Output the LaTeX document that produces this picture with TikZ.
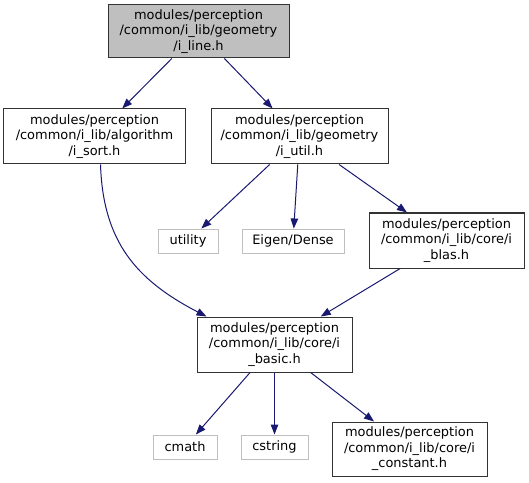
\documentclass[tikz,border=0pt]{standalone}
\usepackage{fontspec}
\setmainfont{DejaVu Sans}
\usepackage{xcolor}
\usetikzlibrary{arrows.meta,positioning}
\definecolor{edgeblue}{HTML}{191970}
\definecolor{sysgray}{HTML}{BFBFBF}

\begin{document}
\begin{tikzpicture}[x=1bp,y=-1bp,
box/.style={draw=black!80,line width=1bp,minimum width=155bp,minimum height=55bp,align=center,inner sep=0pt,font=\fontsize{13}{15.5}\selectfont},
sysbox/.style={draw=sysgray,line width=1bp,minimum height=24bp,inner sep=0pt,font=\fontsize{13}{15.5}\selectfont},arr/.style={-{Triangle[length=10bp,width=7.5bp]},edgeblue,line width=1bp}]
\useasboundingbox (0,0) rectangle (529,483);
\node[box,fill=sysgray,minimum width=181bp,minimum height=53bp] (iline) at (198.5,31.5) {modules/perception\\/common/i\_lib/geometry\\/i\_line.h};
\node[box,minimum width=181bp] (isort) at (94.5,136.5) {modules/perception\\/common/i\_lib/algorithm\\/i\_sort.h};
\node[box,minimum width=177bp] (iutil) at (299.5,136.5) {modules/perception\\/common/i\_lib/geometry\\/i\_util.h};
\node[sysbox,minimum width=60bp] (utility) at (188,241) {utility};
\node[sysbox,minimum width=102bp] (eigen) at (293,241) {Eigen/Dense};
\node[box] (iblas) at (446.5,240.5) {modules/perception\\/common/i\_lib/core/i\\\_blas.h};
\node[box] (ibasic) at (274.5,344.5) {modules/perception\\/common/i\_lib/core/i\\\_basic.h};
\node[sysbox,minimum width=64bp] (cmath) at (185,447) {cmath};
\node[sysbox,minimum width=67bp] (cstring) at (274.5,447) {cstring};
\node[box,minimum height=54bp] (iconst) at (409.5,449) {modules/perception\\/common/i\_lib/core/i\\\_constant.h};
\draw[arr] (iline) -- (isort);
\draw[arr] (iline) -- (iutil);
\draw[arr] ([xshift=6bp]isort.south) .. controls +(2.5,76) and +(-71.5,-37) .. ([xshift=-68bp]ibasic.north);
\draw[arr] (iutil) -- (utility);
\draw[arr] (iutil) -- (eigen);
\draw[arr] (iutil) -- (iblas);
\draw[arr] (iblas) -- (ibasic);
\draw[arr] (ibasic) -- (cmath);
\draw[arr] (ibasic) -- (cstring);
\draw[arr] (ibasic) -- (iconst);
\end{tikzpicture}
\end{document}
